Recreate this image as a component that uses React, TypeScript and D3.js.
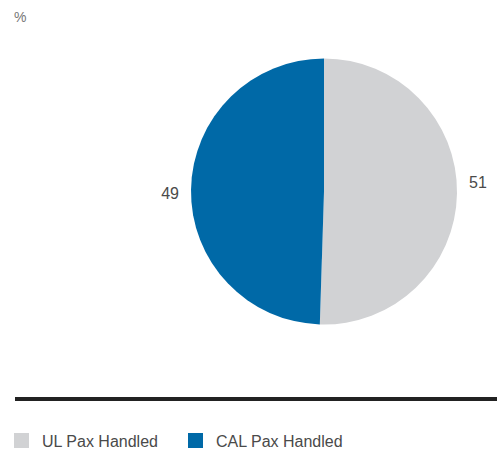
import React from "react";
import * as d3 from "d3";

const categories = ["UL Pax Handled", "CAL Pax Handled"];
const shares = [50.5, 49.5];
const shareLabels = ["51", "49"];
const colors = ["#d1d2d4", "#0069a7"];
const unitLabel = "%";

const W = 497;
const H = 451;

export default function App() {
  const cx = 324;
  const cy = 191.5;
  const r = 133;
  const pie = d3.pie<number>().sort(null).value((d) => d)(shares);
  const arc = d3.arc<d3.PieArcDatum<number>>().innerRadius(0).outerRadius(r);
  const labelArc = d3
    .arc<d3.PieArcDatum<number>>()
    .innerRadius(r + 21)
    .outerRadius(r + 21);
  const nudges = [-11, 4];
  const font = "'Liberation Sans', Arial, sans-serif";
  const legendX = [14, 188];
  return (
    <svg
      width={W}
      height={H}
      style={{ position: "absolute", left: 0, top: 0, background: "#fff" }}
      fontFamily={font}
    >
      <text x={14} y={22} fontSize={14} fill="#777">
        {unitLabel}
      </text>
      <g transform={`translate(${cx},${cy})`}>
        {pie.map((p, i) => (
          <path key={i} d={arc(p) || ""} fill={colors[i]} />
        ))}
        {pie.map((p, i) => {
          const [lx, ly] = labelArc.centroid(p);
          return (
            <text
              key={"l" + i}
              x={lx}
              y={ly + nudges[i]}
              fontSize={16}
              fill="#4a4a4a"
              textAnchor="middle"
              dominantBaseline="central"
            >
              {shareLabels[i]}
            </text>
          );
        })}
      </g>
      <line x1={15} x2={497} y1={399} y2={399} stroke="#222" strokeWidth={4} />
      {categories.map((c, i) => (
        <g key={c}>
          <rect x={legendX[i]} y={433} width={15} height={15} fill={colors[i]} />
          <text x={legendX[i] + 28} y={447} fontSize={16} fill="#4a4a4a">
            {c}
          </text>
        </g>
      ))}
    </svg>
  );
}
